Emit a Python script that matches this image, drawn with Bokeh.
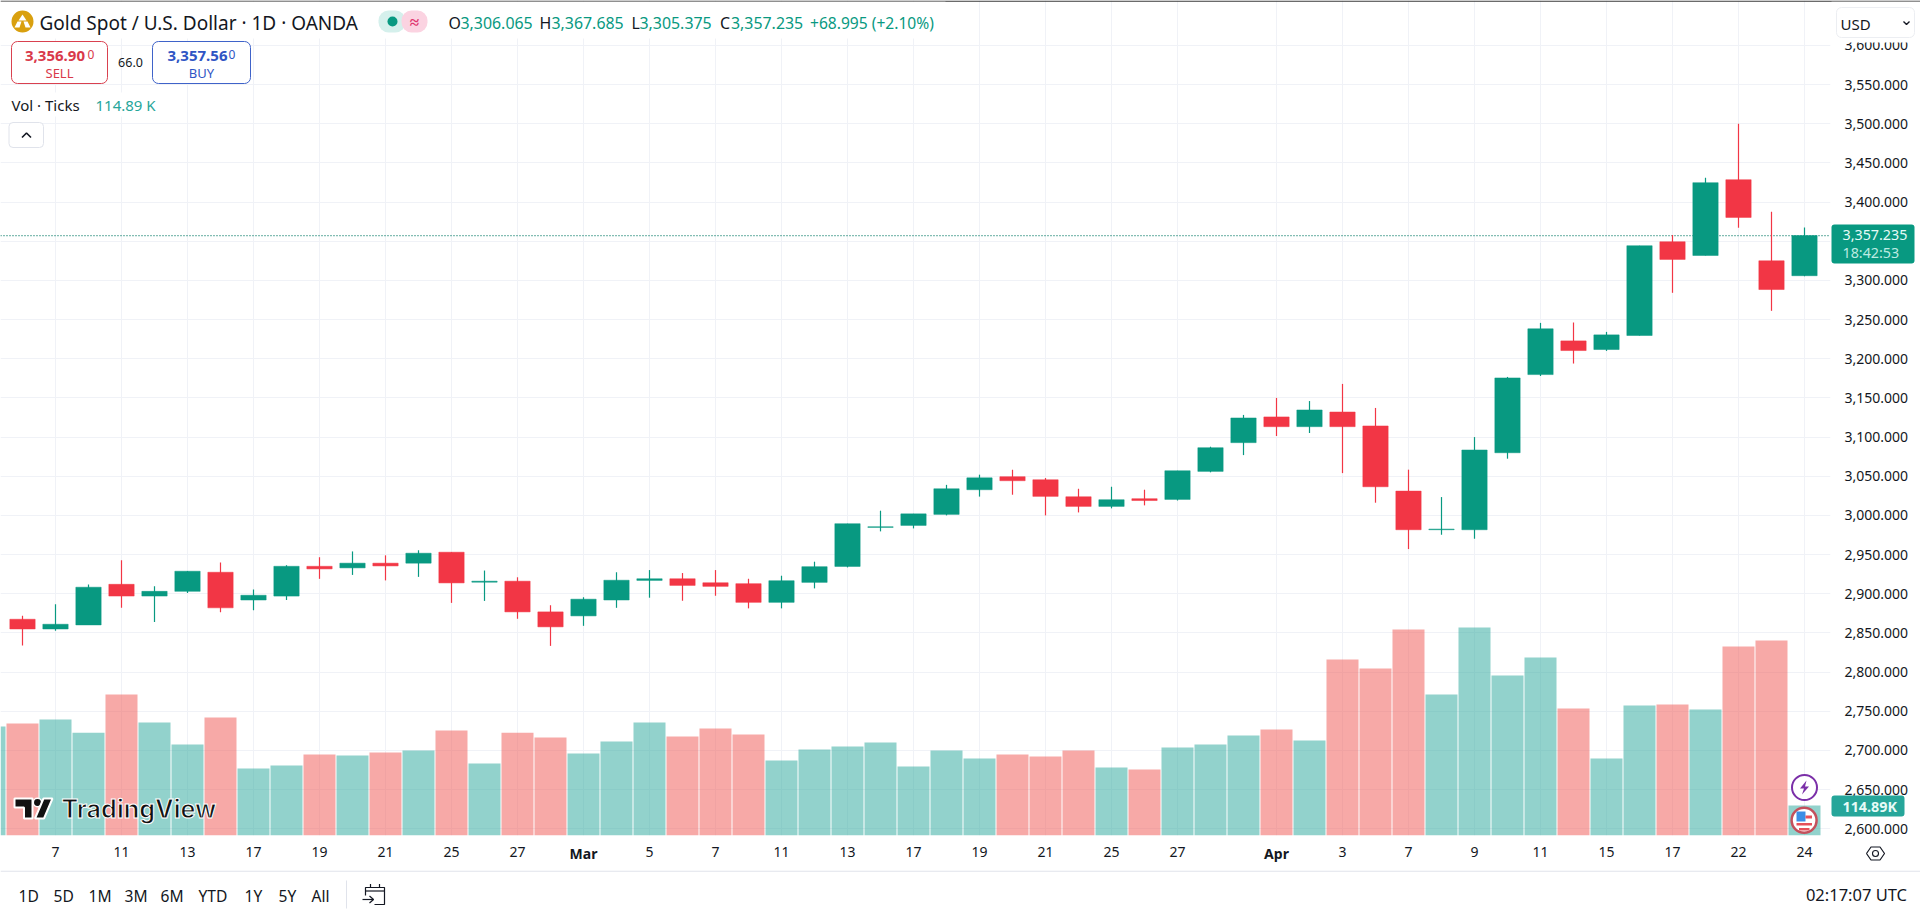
from bokeh.plotting import figure
from bokeh.embed import file_html
from bokeh.resources import INLINE
from bokeh.layouts import column
from bokeh.core.properties import value
from bokeh.models import Range1d, FixedTicker, NumeralTickFormatter, Span, ColumnDataSource

# ---------- data (2025 daily sessions) ----------
sessions = ["Feb 6","Feb 7","Feb 10","Feb 11","Feb 12","Feb 13","Feb 14","Feb 17","Feb 18","Feb 19",
            "Feb 20","Feb 21","Feb 24","Feb 25","Feb 26","Feb 27","Feb 28","Mar 3","Mar 4","Mar 5",
            "Mar 6","Mar 7","Mar 10","Mar 11","Mar 12","Mar 13","Mar 14","Mar 17","Mar 18","Mar 19",
            "Mar 20","Mar 21","Mar 24","Mar 25","Mar 26","Mar 27","Mar 28","Mar 31","Apr 1","Apr 2",
            "Apr 3","Apr 4","Apr 7","Apr 8","Apr 9","Apr 10","Apr 11","Apr 14","Apr 15","Apr 16",
            "Apr 17","Apr 21","Apr 22","Apr 23","Apr 24"]
opens = [2867.4,2855,2860.2,2912,2897,2903,2927.4,2892,2897,2935,
         2933,2939,2939,2953,2914.7,2916,2876.8,2871.7,2892,2917,
         2919.1,2914,2912.8,2889,2914.5,2934.9,2984.7,2987.2,3001.3,3032.8,
         3049.4,3045.5,3023.8,3011.5,3021.3,3020.4,3056.2,3092.9,3125.7,3113.3,
         3132,3114.2,3031,2981.7,2981.7,3080,3179.8,3222.8,3211.8,3229.7,
         3349.4,3331.9,3428.6,3325.1,3306.065]
closes = [2855,2861,2908.3,2897,2903,2928.7,2882,2898,2935,2931.7,
          2939,2935.5,2951.7,2913.8,2916,2876.8,2857.7,2893,2917.2,2919.1,
          2910.6,2909.4,2889,2916.6,2934.5,2989.4,2985.5,3002,3034,3048,
          3044.3,3024.3,3011.5,3020,3019,3057,3086.4,3124.4,3113.3,3134.6,
          3113.3,3036.6,2981.7,2982.5,3083.5,3175.5,3238.2,3210.5,3230.5,3344.3,
          3326.8,3424.8,3380.5,3288.4,3357.235]
highs = [2872,2886.6,2911.7,2942.8,2909.6,2929,2940,2905.3,2936.4,2946.6,
         2954,2949,2955.5,2953,2929.6,2921,2885.3,2895.5,2927.4,2930.2,
         2926.4,2930.2,2919.1,2923,2940.9,2989.4,3006,3002,3039,3052,
         3058.3,3047.7,3034,3036.6,3032.8,3057,3087.7,3128.3,3150,3146,
         3167.9,3137.2,3058.4,3023.4,3100,3176.8,3245.8,3246.3,3234.3,3344.3,
         3357.9,3431.2,3500,3387.7,3367.685]
lows = [2834,2852.6,2860,2882,2864,2901,2876.4,2879,2892,2919,
        2924,2917,2921.5,2888.3,2890.8,2868,2833.4,2859,2882,2894.9,
        2891,2897.4,2881.3,2881.3,2906.8,2933.6,2979.6,2983.4,3000,3024,
        3026.4,3000,3003.8,3009,3012.8,3019,3055,3077,3101.4,3105.2,
        3054,3016.2,2957,2975.3,2970.2,3072.4,3178,3193.9,3210,3229.7,
        3284.2,3331.9,3367.3,3261.2,3305.375]
volumes_k = [429,444,394,540,433,349,452,257,268,310,
             306,318,326,402,276,394,375,314,360,433,
             379,410,387,287,329,341,356,264,326,295,
             310,303,326,260,253,337,349,383,406,364,
             674,640,789,540,797,613,682,486,295,498,
             502,483,724,747,114.89]
earlier_volume_k = [417]
time_tick_index = [1,3,5,7,9,11,13,15,17,19,21,23,25,27,29,31,33,35,38,40,42,44,46,48,50,52,54]
time_tick_labels = ["7","11","13","17","19","21","25","27","","5","7","11","13","17","19","21","25","27","","3","7","9","11","15","17","22","24"]
month_index = [17, 38]
month_labels = ["Mar", "Apr"]
price_ticks = [2600,2650,2700,2750,2800,2850,2900,2950,3000,3050,3100,3150,3200,3250,3300,3350,3400,3450,3500,3550,3600]
last_price = 3357.235

GREEN, RED = "#089981", "#F23645"
VGREEN, VRED = "#26a69a", "#ef5350"
INK, GRID, RULE = "#131722", "#f0f2f7", "#e0e3eb"
FONT = "Noto Sans"
W, H = 1920, 911

def dx(x): return (x - 22) / 33
def dy(y): return 3500 - (y - 123.3) / 0.7832

# ---------- chart figure ----------
p = figure(width=W, height=H, output_backend="svg", toolbar_location=None,
           x_range=Range1d(dx(0), dx(1830)), y_range=Range1d(dy(835), dy(0)),
           y_axis_location="right", min_border_left=0, min_border_top=0,
           min_border_right=W - 1830, min_border_bottom=H - 835, outline_line_color=None,
           background_fill_color="white", border_fill_color="white")
p.extra_y_ranges = {"vol": Range1d(0, 835 * 3.83)}

p.xaxis.ticker = FixedTicker(ticks=time_tick_index)
p.xaxis.major_label_overrides = dict(zip(time_tick_index, time_tick_labels))
p.yaxis.ticker = FixedTicker(ticks=price_ticks)
p.yaxis.formatter = NumeralTickFormatter(format="0,0.000")
for ax in (p.xaxis[0], p.yaxis[0]):
    ax.axis_line_color = None
    ax.major_tick_line_color = None
    ax.minor_tick_line_color = None
    ax.major_label_text_font = FONT
    ax.major_label_text_font_size = "14px"
    ax.major_label_text_color = INK
p.yaxis.major_label_standoff = 8
p.xaxis.major_label_standoff = 5
p.grid.grid_line_color = GRID
p.grid.grid_line_width = 1
p.xgrid.ticker = FixedTicker(ticks=time_tick_index)
p.ygrid.ticker = FixedTicker(ticks=price_ticks)

idx = list(range(len(sessions)))
src = ColumnDataSource(dict(
    x=idx, o=opens, c=closes, h=highs, l=lows, v=volumes_k,
    col=[GREEN if c >= o else RED for o, c in zip(opens, closes)],
    vcol=[VGREEN if c >= o else VRED for o, c in zip(opens, closes)],
    date=sessions))
p.vbar(x=[-1], width=0.97, top=earlier_volume_k, bottom=0, y_range_name="vol",
       fill_color=VGREEN, fill_alpha=0.5, line_color=None)
p.vbar(x="x", width=0.97, top="v", bottom=0, y_range_name="vol", fill_color="vcol",
       fill_alpha=0.5, line_color=None, source=src)
p.add_layout(Span(location=last_price, dimension="width", line_color="#067a67", line_width=1.2,
                  line_dash="1 2", level="underlay"))
p.segment(x0="x", x1="x", y0="l", y1="h", line_color="col", line_width=1.2, source=src)
p.vbar(x="x", width=0.767, top="o", bottom="c", fill_color="col", line_color="col",
       line_width=0.5, source=src)

# ---------- transparent overlay for the terminal's chrome (page-pixel scale) ----------
o = figure(frame_width=W, frame_height=H, output_backend="svg", toolbar_location=None,
           x_range=Range1d(0, W), y_range=Range1d(H, 0), x_axis_location=None, y_axis_location=None,
           min_border=0, min_border_left=0, min_border_right=0, min_border_top=0, min_border_bottom=0,
           outline_line_color=None, background_fill_color=None, border_fill_color=None,
           styles={"position": "absolute", "left": "0", "top": "0", "width": f"{W}px", "height": f"{H}px"})
o.grid.visible = False

def box(x0, y0, x1, y1, fill="white", line=None, radius=0, lw=1):
    o.quad(left=[x0], right=[x1], top=[y0], bottom=[y1], fill_color=fill, line_color=line,
           line_width=lw, border_radius=radius)

def text(x, y, s, color=INK, size=14.3, align="left", style="normal", font=FONT, **kw):
    o.text([x], [y], text=[s], text_color=color, text_font_size=f"{size}px", text_font=value(font),
           text_font_style=style, text_align=align, text_baseline="middle", **kw)

def shape(pts, color, line=None, lw=1):
    o.patch([a for a, _ in pts], [b for _, b in pts], fill_color=color, line_color=line, line_width=lw)

def stroke(pts, color=INK, lw=1.2):
    o.line([a for a, _ in pts], [b for _, b in pts], line_color=color, line_width=lw)

def dot(x, y, r, fill, line=None, lw=1):
    o.scatter([x], [y], size=2 * r, fill_color=fill, line_color=line, line_width=lw)

# top edge and header
box(0, 0, W, 1.2, fill="#3a3a3a")
box(0, 1.2, 945, 38)
dot(22, 21, 11, "#D9A00F")
shape([(22, 14), (26, 20), (18, 20)], "white")
shape([(17, 21), (21, 21), (19, 27), (14, 27)], "white")
shape([(23, 21), (27, 21), (30, 27), (25, 27)], "white")
text(39, 22, "Gold Spot / U.S. Dollar · 1D · OANDA", size=19)
box(378, 10, 405, 32, fill="#d5f0ec", radius=10)
box(401, 10, 427, 32, fill="#fbd3e1", radius=10)
dot(392, 21, 5, GREEN)
text(414, 21, "≈", color="#e0356e", size=17, align="center", style="bold")
for lx, ltxt, vx, vtxt in [(448, "O", 460, "3,306.065"), (539, "H", 551, "3,367.685"),
                           (631, "L", 639, "3,305.375"), (719.5, "C", 730.5, "3,357.235")]:
    text(lx, 22, ltxt, size=15.9)
    text(vx, 22, vtxt, color=GREEN, size=15.9)
text(809.5, 22, "+68.995 (+2.10%)", color=GREEN, size=15.6)

box(11, 41, 107, 83, line="#d9414f", radius=6)
text(24.5, 55, "3,356.90", color="#d9394a", size=15, style="bold")
text(87, 54, "0", color="#d9394a", size=12)
text(59, 72, "SELL", color="#d9394a", size=13, align="center")
text(130, 62, "66.0", size=12.5, align="center")
box(152, 41, 250, 83, line="#3f63c9", radius=6)
text(167, 55, "3,357.56", color="#2f55c4", size=15, style="bold")
text(228, 54, "0", color="#2f55c4", size=12)
text(201, 72, "BUY", color="#2f55c4", size=13, align="center")

box(8, 92, 160, 116)
text(11, 104, "Vol · Ticks", size=15)
text(95, 104, "114.89 K", color=VGREEN, size=15)
box(8.5, 122, 43, 147, line=RULE, radius=4)
stroke([(21.5, 137), (26, 132.5), (30.5, 137)], lw=1.6)

# right column
box(1831, 1.2, W, 42)
box(1836, 7, 1914, 37, line="#eceef2", radius=5)
text(1840, 23, "USD", size=15)
stroke([(1903, 21), (1906, 24), (1909, 21)], lw=1.4)
box(1831, 224, 1914, 263, fill=GREEN, radius=3)
text(1842, 234, "3,357.235", color="#e6fbf7", size=14.3)
text(1842, 252, "18:42:53", color="#bdebe2", size=14.3)
box(1831, 795, 1904, 816, fill=VGREEN, radius=3)
text(1842, 806, "114.89K", color="#e6fbf7", size=14.3, style="bold")

# events on the last session
dot(1804, 787, 12.5, "white", line="#7b2fa8", lw=2)
shape([(1806, 780), (1799.5, 788), (1803.5, 788), (1801.5, 794), (1808.5, 786), (1804.5, 786)], "#7b2fa8")
dot(1803.6, 819.7, 12.5, "white", line="#c4505c", lw=2.5)
box(1796, 811, 1805, 821, fill="#3a8ee6")
box(1805, 815, 1811.5, 818, fill="#e5505a")
box(1796, 822.5, 1811.5, 825, fill="#e5505a")
box(1798.5, 827.5, 1809, 830, fill="#e5505a")

# watermark
shape([(14, 798), (32, 798), (32, 818), (23.5, 818), (23.5, 807), (14, 807)], "#111111", line="white", lw=2)
dot(37, 802, 4.2, "#111111", line="white", lw=1.5)
shape([(43, 798), (52, 798), (43.5, 818), (34.5, 818)], "#111111", line="white", lw=2)
text(61, 808, "TradingView", color="#111111", size=25, style="bold", font="Inter",
     text_outline_color="white")

# month labels on the time axis
for mi, ml in zip(month_index, month_labels):
    text(22 + 33 * mi, 853, ml, size=14, align="center", style="bold")

# settings hexagon
stroke([(1866, 853), (1870.5, 846.5), (1879.5, 846.5), (1884, 853), (1879.5, 859.5), (1870.5, 859.5), (1866, 853)])
dot(1875, 853, 3, "white", line=INK, lw=1.1)

# bottom bar
box(0, 870.2, W, 871.2, fill=RULE)
for tx, s in [(18, "1D"), (53, "5D"), (88, "1M"), (124, "3M"), (160, "6M"), (198, "YTD"),
              (244, "1Y"), (278, "5Y"), (311, "All")]:
    text(tx, 895, s, size=15.6)
box(345.5, 880, 346.5, 908, fill=RULE)
stroke([(365, 895), (365, 887), (384, 887), (384, 904), (374, 904)])
stroke([(365, 890.5), (384, 890.5)])
stroke([(370, 883.5), (370, 887)])
stroke([(379, 883.5), (379, 887)])
stroke([(362, 899), (373, 899)])
stroke([(369, 895.5), (373, 899), (369, 902.5)])
text(1906.5, 894, "02:17:07 UTC", size=16.5, align="right")

page = column(p, o)
open("out.html", "w").write(file_html(page, INLINE))
